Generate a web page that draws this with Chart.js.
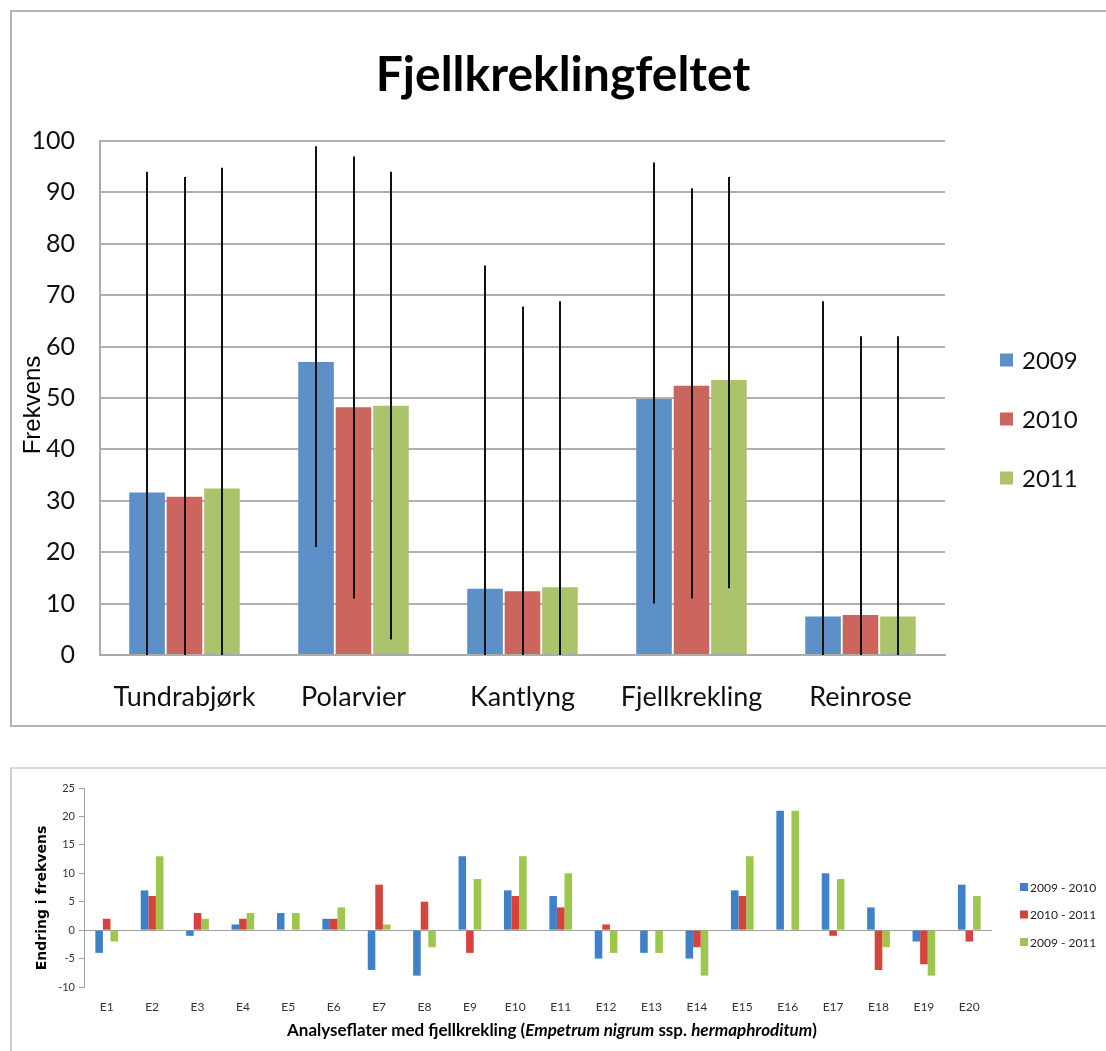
<!DOCTYPE html>
<html>
<head>
<meta charset="utf-8">
<script src="https://cdn.jsdelivr.net/npm/chart.js@4.4.1/dist/chart.umd.min.js"></script>
<style>
  html, body { margin: 0; padding: 0; background: #fff; }
  body { width: 1106px; height: 1051px; position: relative; overflow: hidden; }
  #box1 { position: absolute; left: 10px; top: 10px; width: 1100px; height: 713px;
          border: 2px solid #b4b4b4; }
  #box2 { position: absolute; left: 10px; top: 767px; width: 1100px; height: 300px;
          border-left: 2px solid #cfcfcf; border-top: 2px solid #dadada; }
  #wrap1 { position: absolute; left: 12px; top: 12px; width: 1094px; height: 713px; }
  #wrap2 { position: absolute; left: 12px; top: 770px; width: 1094px; height: 281px; }
</style>
</head>
<body>
<div id="box1"></div>
<div id="box2"></div>
<div id="wrap1"><canvas id="c1" width="1094" height="713"></canvas></div>
<div id="wrap2"><canvas id="c2" width="1094" height="281"></canvas></div>
<script>
// ---------- Top chart data ----------
const chartTitle = 'Fjellkreklingfeltet';
const species = ['Tundrabjørk', 'Polarvier', 'Kantlyng', 'Fjellkrekling', 'Reinrose'];
const years = ['2009', '2010', '2011'];
const freq2009 = [31.6, 57.0, 12.9, 49.8, 7.5];
const freq2010 = [30.8, 48.2, 12.4, 52.4, 7.8];
const freq2011 = [32.4, 48.5, 13.2, 53.5, 7.5];
const errHigh2009 = [94.0, 99.0, 75.8, 95.8, 68.8];
const errHigh2010 = [93.0, 97.0, 67.8, 90.8, 62.0];
const errHigh2011 = [94.8, 94.0, 68.8, 93.0, 62.0];
const errLow2009 = [0, 21.0, 0, 10.0, 0];
const errLow2010 = [0, 11.0, 0, 11.0, 0];
const errLow2011 = [0, 3.0, 0, 13.0, 0];
const topTicks = [0, 10, 20, 30, 40, 50, 60, 70, 80, 90, 100];

// ---------- Bottom chart data ----------
const plots = ['E1','E2','E3','E4','E5','E6','E7','E8','E9','E10','E11','E12','E13','E14','E15','E16','E17','E18','E19','E20'];
const periods = ['2009 - 2010', '2010 - 2011', '2009 - 2011'];
const change0910 = [-4, 7, -1, 1, 3, 2, -7, -8, 13, 7, 6, -5, -4, -5, 7, 21, 10, 4, -2, 8];
const change1011 = [2, 6, 3, 2, 0, 2, 8, 5, -4, 6, 4, 1, 0, -3, 6, 0, -1, -7, -6, -2];
const change0911 = [-2, 13, 2, 3, 3, 4, 1, -3, 9, 13, 10, -4, -4, -8, 13, 21, 9, -3, -8, 6];
const bottomTicks = [-10, -5, 0, 5, 10, 15, 20, 25];

const topColors = ['#5c90c7', '#cc655d', '#abc36b'];
const botColors = ['#3f80c8', '#d6433c', '#9cc64c'];

// ---------- Plugins ----------
const errorBars = {
  id: 'errorBars',
  afterDatasetsDraw(chart, args, opts) {
    const ctx = chart.ctx, ys = chart.scales.y;
    const highs = opts.high, lows = opts.low;
    ctx.save();
    ctx.strokeStyle = '#111';
    ctx.lineWidth = 2;
    chart.data.datasets.forEach((ds, i) => {
      const meta = chart.getDatasetMeta(i);
      meta.data.forEach((bar, j) => {
        const yTop = ys.getPixelForValue(highs[i][j]);
        const yBot = ys.getPixelForValue(Math.max(lows[i][j], ys.min));
        ctx.beginPath();
        ctx.moveTo(Math.round(bar.x), yTop);
        ctx.lineTo(Math.round(bar.x), yBot);
        ctx.stroke();
      });
    });
    ctx.restore();
  }
};

const customLegend = {
  id: 'customLegend',
  afterDraw(chart, args, o) {
    const ctx = chart.ctx;
    ctx.save();
    ctx.font = o.font;
    ctx.textBaseline = 'middle';
    ctx.textAlign = 'left';
    chart.data.datasets.forEach((ds, i) => {
      const cy = o.y + i * o.step;
      ctx.fillStyle = ds.backgroundColor;
      ctx.fillRect(o.x, cy - o.box / 2, o.box, o.box);
      ctx.fillStyle = o.color;
      ctx.fillText(ds.label, o.x + o.box + o.gap, cy + 1);
    });
    ctx.restore();
  }
};

const textLayer = {
  id: 'textLayer',
  afterDraw(chart, args, o) {
    const ctx = chart.ctx;
    ctx.save();
    ctx.fillStyle = o.color || '#000';
    if (o.title) {
      ctx.font = o.title.font;
      ctx.textAlign = 'center';
      ctx.textBaseline = 'middle';
      ctx.fillText(o.title.text, o.title.x, o.title.y);
    }
    if (o.yTitle) {
      ctx.save();
      ctx.translate(o.yTitle.x, o.yTitle.y);
      ctx.rotate(-Math.PI / 2);
      ctx.font = o.yTitle.font;
      ctx.textAlign = 'center';
      ctx.textBaseline = 'middle';
      ctx.fillText(o.yTitle.text, 0, 0);
      ctx.restore();
    }
    if (o.xTitle) {
      const runs = o.xTitle.runs;
      let total = 0;
      runs.forEach(r => { ctx.font = r.font; total += ctx.measureText(r.text).width; });
      let x = o.xTitle.x - total / 2;
      ctx.textBaseline = 'middle';
      ctx.textAlign = 'left';
      runs.forEach(r => { ctx.font = r.font; ctx.fillText(r.text, x, o.xTitle.y); x += ctx.measureText(r.text).width; });
    }
    ctx.restore();
  }
};

// ---------- Top chart ----------
new Chart(document.getElementById('c1'), {
  type: 'bar',
  data: {
    labels: species,
    datasets: [
      { label: years[0], data: freq2009, backgroundColor: topColors[0] },
      { label: years[1], data: freq2010, backgroundColor: topColors[1] },
      { label: years[2], data: freq2011, backgroundColor: topColors[2] }
    ]
  },
  options: {
    responsive: false,
    animation: false,
    devicePixelRatio: 1,
    layout: { padding: { left: 0, right: 161, top: 129, bottom: 0 } },
    datasets: { bar: { categoryPercentage: 0.665, barPercentage: 0.95, borderWidth: 0 } },
    plugins: {
      legend: { display: false },
      tooltip: { enabled: false },
      title: { display: false },
      errorBars: { high: [errHigh2009, errHigh2010, errHigh2011], low: [errLow2009, errLow2010, errLow2011] },
      customLegend: { x: 988, y: 348, step: 59, box: 13, gap: 9, font: '24px Lato', color: '#111' },
      textLayer: {
        color: '#000',
        title: { text: chartTitle, x: 551, y: 64, font: 'bold 48px Lato' },
        yTitle: { text: 'Frekvens', x: 21, y: 393, font: '24px "Liberation Sans"' }
      }
    },
    scales: {
      x: {
        grid: { display: false },
        border: { display: true, color: '#ababab', width: 2 },
        ticks: { color: '#111', font: { family: 'Lato', size: 27 }, padding: 18 },
        afterFit(s) { s.height = 70; }
      },
      y: {
        min: 0, max: 100,
        afterBuildTicks(s) { s.ticks = topTicks.map(v => ({ value: v })); },
        grid: { color: '#b0b0b0', lineWidth: 2, drawTicks: false },
        border: { display: true, color: '#ababab', width: 2 },
        ticks: { color: '#111', font: { family: 'Lato', size: 25 }, padding: 25 },
        afterFit(s) { s.width = 88; }
      }
    }
  },
  plugins: [errorBars, customLegend, textLayer]
});

// ---------- Bottom chart ----------
new Chart(document.getElementById('c2'), {
  type: 'bar',
  data: {
    labels: plots,
    datasets: [
      { label: periods[0], data: change0910, backgroundColor: botColors[0] },
      { label: periods[1], data: change1011, backgroundColor: botColors[1] },
      { label: periods[2], data: change0911, backgroundColor: botColors[2] }
    ]
  },
  options: {
    responsive: false,
    animation: false,
    devicePixelRatio: 1,
    layout: { padding: { left: 0, right: 114, top: 18, bottom: 0 } },
    datasets: { bar: { categoryPercentage: 0.5, barPercentage: 1.0, borderWidth: 0 } },
    plugins: {
      legend: { display: false },
      tooltip: { enabled: false },
      customLegend: { x: 1008, y: 117, step: 27.5, box: 8, gap: 2, font: '12px Lato', color: '#222' },
      textLayer: {
        color: '#000',
        yTitle: { text: 'Endring i frekvens', x: 30, y: 128, font: 'bold 14px "DejaVu Sans"' },
        xTitle: {
          x: 540, y: 261,
          runs: [
            { text: 'Analyseflater med fjellkrekling (', font: 'bold 17px Lato' },
            { text: 'Empetrum nigrum', font: 'italic bold 17px Lato' },
            { text: ' ssp. ', font: 'bold 17px Lato' },
            { text: 'hermaphroditum', font: 'italic bold 17px Lato' },
            { text: ')', font: 'bold 17px Lato' }
          ]
        }
      }
    },
    scales: {
      x: {
        grid: { display: false },
        border: { display: false },
        ticks: { color: '#333', font: { family: 'Lato', size: 12 }, padding: 5, maxRotation: 0, autoSkip: false },
        afterFit(s) { s.height = 64; }
      },
      y: {
        min: -10, max: 25,
        afterBuildTicks(s) { s.ticks = bottomTicks.map(v => ({ value: v })); },
        grid: {
          color: c => (c.tick && c.tick.value === 0) ? '#a0a0a0' : 'rgba(0,0,0,0)',
          tickColor: '#a0a0a0', lineWidth: 1, drawTicks: true, tickLength: 5
        },
        border: { display: true, color: '#a0a0a0', width: 1 },
        ticks: { color: '#333', font: { family: 'Lato', size: 11 }, padding: 4 },
        afterFit(s) { s.width = 72; }
      }
    }
  },
  plugins: [customLegend, textLayer]
});
</script>
</body>
</html>
